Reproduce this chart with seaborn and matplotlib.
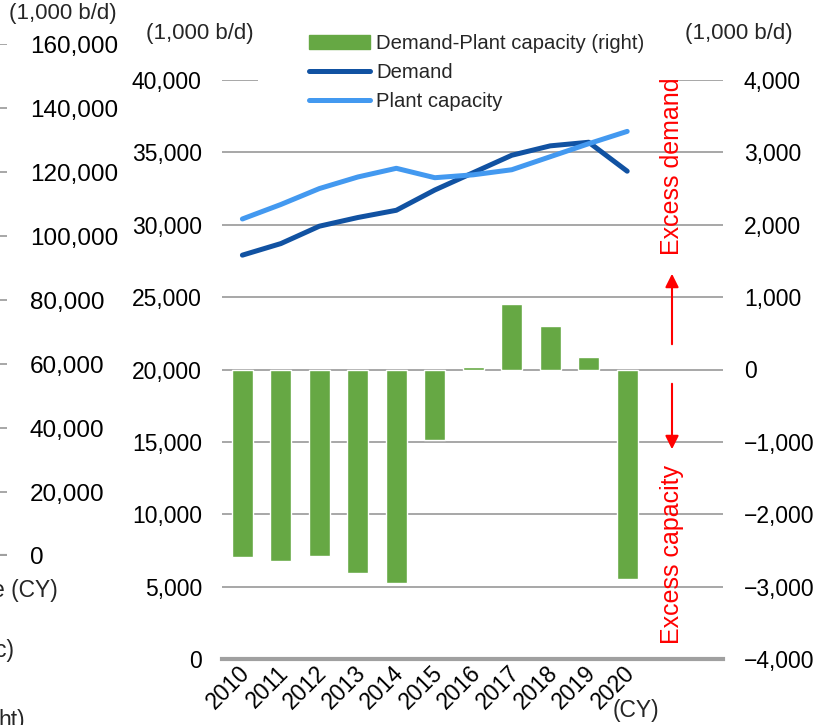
import pandas as pd
import numpy as np
import matplotlib
matplotlib.use("Agg")
import matplotlib.pyplot as plt
from matplotlib.patches import Rectangle
from matplotlib.ticker import FuncFormatter, MultipleLocator
from matplotlib.transforms import ScaledTranslation
import seaborn as sns

sns.set_theme(style="white")
plt.rcParams['font.family'] = ['Liberation Sans', 'DejaVu Sans']

years = ['2010', '2011', '2012', '2013', '2014', '2015', '2016', '2017', '2018', '2019', '2020']
demand = [27900, 28700, 29900, 30500, 31000, 32400, 33600, 34800, 35450, 35700, 33700]
capacity = [30400, 31400, 32500, 33300, 33900, 33250, 33450, 33800, 34700, 35600, 36450]
gap = [-2590, -2650, -2570, -2810, -2950, -980, 30, 900, 600, 170, -2890]

# fragment of the neighbouring chart on the left edge
ghost_ticks = [0, 20000, 40000, 60000, 80000, 100000, 120000, 140000, 160000]

GREEN = '#66A844'
DARK = '#1152A2'
LIGHT = '#4399F0'
GRID = '#A0A0A0'


def fmt(v, pos=None):
    return f"{v:,.0f}".replace('-', '\u2212')


df = pd.DataFrame({'year': years, 'Demand': demand, 'Plant capacity': capacity, 'gap': gap})

fig = plt.figure(figsize=(8.19, 7.25), dpi=100)

# ghost axis (cut-off chart)
axg = fig.add_axes([-0.3, 1 - 556 / 725, 0.3 + 7 / 819, (556 - 44) / 725])
axg.set_ylim(0, 160000)
axg.set_yticks(ghost_ticks)
axg.yaxis.set_major_formatter(FuncFormatter(fmt))
axg.yaxis.tick_right()
axg.tick_params(axis='y', length=0, pad=16.5, labelsize=17.5, labelcolor='black')
axg.set_xticks([])
axg.grid(axis='y', color=GRID, lw=1.3)
for s in axg.spines.values():
    s.set_visible(False)
axg.axhline(0, color=GRID, lw=3)
axg.patch.set_alpha(0)

# main: bars on the right scale
ax = fig.add_axes([222 / 819, 66 / 725, 501 / 819, 579 / 725])
sns.barplot(data=df, x='year', y='gap', color=GREEN, width=0.54, saturation=1,
            ax=ax, legend=False, zorder=2)
ax.set_ylim(-4000, 4000)
ax.yaxis.set_major_locator(MultipleLocator(1000))
ax.yaxis.set_major_formatter(FuncFormatter(fmt))
ax.set_xlim(-0.53, 12.49)
ax.grid(axis='y', color=GRID, lw=1.3)
ax.set_axisbelow(True)
for s in ['left', 'right', 'top']:
    ax.spines[s].set_visible(False)
ax.spines['bottom'].set_color(GRID)
ax.spines['bottom'].set_linewidth(3)
ax.set_xlabel('')
ax.set_ylabel('')

# white box under the legend hides the top gridline
ax.add_patch(Rectangle(((258 - 222) / 501, 0.98), (668 - 258) / 501, 0.04,
                       transform=ax.transAxes, facecolor='white', edgecolor='none',
                       zorder=1, clip_on=False))

# lines on the left scale
ax2 = ax.twinx()
long_df = df.melt(id_vars='year', value_vars=['Demand', 'Plant capacity'],
                  var_name='series', value_name='value')
sns.lineplot(data=long_df, x='year', y='value', hue='series',
             palette={'Demand': DARK, 'Plant capacity': LIGHT},
             lw=3.6, ax=ax2, legend=False, sort=False)
ax2.set_ylim(0, 40000)
ax2.yaxis.set_major_locator(MultipleLocator(5000))
ax2.yaxis.set_major_formatter(FuncFormatter(fmt))
ax2.yaxis.tick_left()
ax2.set_ylabel('')
ax2.set_xlabel('')
ax2.tick_params(axis='y', length=0, pad=14.5, labelsize=16.5, labelcolor='black')
for s in ax2.spines.values():
    s.set_visible(False)
ax2.set_xlim(-0.53, 12.49)

# twinx moved the bar axis ticks to the left, put them back right
ax.yaxis.tick_right()
ax.tick_params(axis='y', length=0, pad=15, labelsize=16.5, labelcolor='black')
ax.tick_params(axis='x', length=0, pad=2, labelsize=16.5, labelcolor='black')
shift = ScaledTranslation(-3 / 72, 0, fig.dpi_scale_trans)
for lab in ax.get_xticklabels():
    lab.set_rotation(45)
    lab.set_ha('right')
    lab.set_rotation_mode('anchor')
    lab.set_transform(lab.get_transform() + shift)

# legend
handles = [Rectangle((0, 0), 1, 1, color=GREEN),
           plt.Line2D([], [], color=DARK, lw=3.6),
           plt.Line2D([], [], color=LIGHT, lw=3.6)]
labels = ['Demand-Plant capacity (right)', 'Demand', 'Plant capacity']
fig.legend(handles, labels, loc='upper left', bbox_to_anchor=(301 / 819, 1 - 26 / 725),
           frameon=False, fontsize=14.6, handlelength=3.0, handletextpad=0.3,
           labelspacing=0.5, borderaxespad=0, borderpad=0.4)

# unit labels
fig.text(200 / 819, 1 - 33 / 725, '(1,000 b/d)', ha='center', va='center', fontsize=16)
fig.text(739 / 819, 1 - 33 / 725, '(1,000 b/d)', ha='center', va='center', fontsize=16)
fig.text(63 / 819, 1 - 14 / 725, '(1,000 b/d)', ha='center', va='center', fontsize=16)
fig.text(636 / 819, 1 - 710 / 725, '(CY)', ha='center', va='center', fontsize=16.5)
fig.text(58 / 819, 1 - 590 / 725, 'e (CY)', ha='right', va='center', fontsize=16.5)
fig.text(14 / 819, 1 - 650 / 725, 'c)', ha='right', va='center', fontsize=16.5)
fig.text(25 / 819, 1 - 720 / 725, 'ht)', ha='right', va='center', fontsize=16.5)

# excess demand / capacity annotation
ax_x = (672 - 222) / 501
ax.annotate('', xy=(ax_x, (659 - 271) / 579), xytext=(ax_x, (659 - 347) / 579),
            xycoords='axes fraction', textcoords='axes fraction',
            arrowprops=dict(arrowstyle='-|>', color='red', lw=1.5, mutation_scale=20))
ax.annotate('', xy=(ax_x, (659 - 452) / 579), xytext=(ax_x, (659 - 381) / 579),
            xycoords='axes fraction', textcoords='axes fraction',
            arrowprops=dict(arrowstyle='-|>', color='red', lw=1.5, mutation_scale=20))
ax2.text(ax_x, (659 - 166) / 579, 'Excess demand', transform=ax.transAxes, rotation=90,
         ha='center', va='center', color='red', fontsize=18)
ax2.text(ax_x, (659 - 555) / 579, 'Excess capacity', transform=ax.transAxes, rotation=90,
         ha='center', va='center', color='red', fontsize=18)

fig.savefig('out.png', dpi=100)
